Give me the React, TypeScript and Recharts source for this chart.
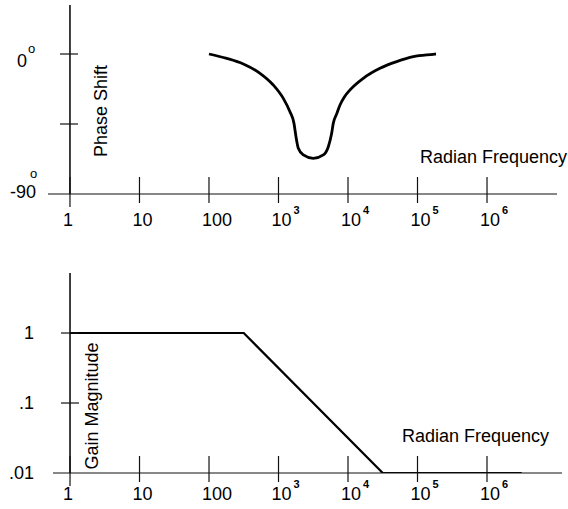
import { Label, Line, LineChart, ReferenceLine, XAxis, YAxis } from 'recharts';

const FONT = '"Liberation Sans", Arial, Helvetica, sans-serif';

// shared frequency axis
const freqTicks = [1, 10, 100, 1000, 10000, 100000, 1000000];
const freqTickLabels = ['1', '10', '100', '10^3', '10^4', '10^5', '10^6'];

// phase shift curve (degrees)
const phaseFreq = [100, 180, 312, 542, 841, 1172, 1462, 1671, 1786, 1928, 2275, 3170, 4416, 5212, 5821, 6138, 6871, 7674, 8913, 10690, 16600, 28840, 50120, 87100, 168700, 184500];
const phaseDeg = [0, -2.8, -6.4, -12.4, -19.9, -28.5, -37.1, -44.6, -53.2, -60.6, -64.9, -67.1, -64.9, -59.6, -51, -44.6, -38.5, -32.8, -27.5, -23.1, -15.6, -9.2, -4.9, -1.7, -0.2, 0];
const phaseTicks = [-90, -45, 0];

// gain magnitude asymptotes
const gainFreq = [1, 316, 31623, 3162000];
const gainMag = [1, 1, 0.01, 0.01];
const gainTicks = [0.01, 0.1, 1];
const gainTickLabels = ['.01', '.1', '1'];

const phaseData = phaseFreq.map((freq, i) => ({ freq, phase: phaseDeg[i] }));
const gainData = gainFreq.map((freq, i) => ({ freq, gain: gainMag[i] }));

function FreqTick(props: any) {
  const { x, y, payload, labelDy } = props;
  const label = freqTickLabels[freqTicks.indexOf(payload.value)] ?? '';
  const [base, exp] = label.split('^');
  return (
    <g>
      <line x1={x} x2={x} y1={y - 17} y2={y + (payload.value === 1 ? 13 : 9)} stroke="#111" strokeWidth={1.2} />
      <text x={x - 7} y={y + labelDy} fontSize={18} fontFamily={FONT} fill="#000">
        {base}
        {exp && (
          <tspan dx={2} dy={-12} fontSize={11} fontWeight="bold">
            {exp}
          </tspan>
        )}
      </text>
    </g>
  );
}

function PhaseTick(props: any) {
  const { y, payload } = props;
  const v = payload.value;
  const text = { fontSize: 18, fontFamily: FONT, fill: '#000' };
  return (
    <g>
      {v !== -90 && <line x1={60} x2={78} y1={y} y2={y} stroke="#111" strokeWidth={1.2} />}
      {v === 0 && (
        <text x={17} y={y + 13} {...text}>
          0
          <tspan dx={1} dy={-14} fontSize={13}>o</tspan>
        </text>
      )}
      {v === -90 && (
        <text x={10} y={y + 4} {...text}>
          -90
          <tspan dx={-6} dy={-20} fontSize={13}>o</tspan>
        </text>
      )}
    </g>
  );
}

function GainTick(props: any) {
  const { y, payload } = props;
  const label = gainTickLabels[gainTicks.indexOf(payload.value)] ?? '';
  return (
    <g>
      {payload.value !== 0.01 && <line x1={61} x2={79} y1={y} y2={y} stroke="#111" strokeWidth={1.2} />}
      <text x={34} y={y + 6} textAnchor="end" fontSize={18} fontFamily={FONT} fill="#000">
        {label}
      </text>
    </g>
  );
}

export default function App() {
  return (
    <div style={{ position: 'absolute', left: 0, top: 0, width: 568, height: 509, background: '#fff' }}>
      <LineChart width={568} height={250} data={phaseData} margin={{ top: 5, right: 11, bottom: 16, left: 0 }}>
        <XAxis
          dataKey="freq"
          type="number"
          scale="log"
          domain={[0.483, 1.016e7]}
          allowDataOverflow
          ticks={freqTicks}
          interval={0}
          height={40}
          tickSize={0}
          tickMargin={0}
          tickLine={false}
          axisLine={{ stroke: '#111', strokeWidth: 1.2 }}
          tick={(p: any) => <FreqTick {...p} labelDy={32} />}
        >
          <Label
            content={() => (
              <text x={567} y={163} textAnchor="end" fontSize={18} fontFamily={FONT} fill="#000">
                Radian Frequency
              </text>
            )}
          />
        </XAxis>
        <YAxis
          type="number"
          domain={[-90, 31.5]}
          allowDataOverflow
          ticks={phaseTicks}
          interval={0}
          width={48}
          axisLine={false}
          tickLine={false}
          tickSize={0}
          tickMargin={0}
          tick={(p: any) => <PhaseTick {...p} />}
        >
          <Label
            content={() => (
              <text x={107} y={111} transform="rotate(-90 107 111)" textAnchor="middle" fontSize={18} fontFamily={FONT} fill="#000">
                Phase Shift
              </text>
            )}
          />
        </YAxis>
        <ReferenceLine x={1} stroke="#000" strokeWidth={1.5} />
        <Line type="monotone" dataKey="phase" stroke="#000" strokeWidth={2.8} dot={false} isAnimationActive={false} />
      </LineChart>

      <LineChart width={568} height={259} data={gainData} margin={{ top: 23, right: 6, bottom: 6, left: 0 }}>
        <XAxis
          dataKey="freq"
          type="number"
          scale="log"
          domain={[0.569, 1.2e7]}
          allowDataOverflow
          ticks={freqTicks}
          interval={0}
          height={30}
          tickSize={0}
          tickMargin={0}
          tickLine={false}
          axisLine={{ stroke: '#111', strokeWidth: 1.2 }}
          tick={(p: any) => <FreqTick {...p} labelDy={27} />}
        >
          <Label
            content={() => (
              <text x={549} y={192} textAnchor="end" fontSize={18} fontFamily={FONT} fill="#000">
                Radian Frequency
              </text>
            )}
          />
        </XAxis>
        <YAxis
          type="number"
          scale="log"
          domain={[0.01, 7.2]}
          allowDataOverflow
          ticks={gainTicks}
          interval={0}
          width={53}
          axisLine={false}
          tickLine={false}
          tickSize={0}
          tickMargin={0}
          tick={(p: any) => <GainTick {...p} />}
        >
          <Label
            content={() => (
              <text x={98} y={156} transform="rotate(-90 98 156)" textAnchor="middle" fontSize={18} fontFamily={FONT} fill="#000">
                Gain Magnitude
              </text>
            )}
          />
        </YAxis>
        <ReferenceLine x={1} stroke="#000" strokeWidth={1.5} />
        <Line type="linear" dataKey="gain" stroke="#000" strokeWidth={2.2} dot={false} isAnimationActive={false} />
      </LineChart>
    </div>
  );
}
